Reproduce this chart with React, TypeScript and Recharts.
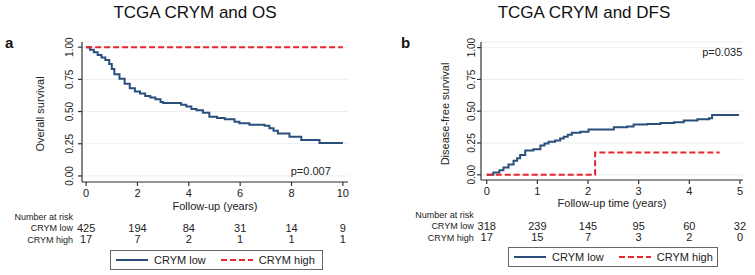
import React from "react";
import {
  LineChart,
  Line,
  XAxis,
  YAxis,
  CartesianGrid,
  Legend,
  ReferenceDot,
} from "recharts";

// overall survival (panel a)
const osLowTime = [0, 0.15, 0.3, 0.45, 0.6, 0.75, 0.9, 1.0, 1.1, 1.3, 1.5, 1.7, 1.9, 2.1, 2.3, 2.5, 2.7, 2.9, 3.0, 3.7, 3.9, 4.1, 4.3, 4.55, 4.8, 5.1, 5.4, 5.78, 5.97, 6.36, 6.95, 7.14, 7.3, 7.47, 7.92, 8.38, 9.09, 10.0];
const osLowSurv = [1.0, 0.98, 0.96, 0.94, 0.92, 0.9, 0.87, 0.83, 0.79, 0.755, 0.715, 0.68, 0.655, 0.64, 0.62, 0.61, 0.595, 0.575, 0.566, 0.553, 0.54, 0.52, 0.51, 0.49, 0.46, 0.45, 0.44, 0.42, 0.41, 0.398, 0.39, 0.37, 0.35, 0.33, 0.305, 0.28, 0.255, 0.255];
const osHighTime = [0, 10];
const osHighSurv = [1, 1];
const osTicks = [0, 2, 4, 6, 8, 10];
const osRiskLow = [425, 194, 84, 31, 14, 9];
const osRiskHigh = [17, 7, 2, 1, 1, 1];

// disease-free survival (panel b)
const dfsLowTime = [0, 0.13, 0.25, 0.33, 0.43, 0.53, 0.6, 0.66, 0.76, 0.92, 1.06, 1.14, 1.22, 1.35, 1.45, 1.52, 1.6, 1.68, 1.85, 2.01, 2.31, 2.51, 2.77, 2.9, 3.17, 3.43, 3.7, 3.89, 4.16, 4.39, 4.45, 4.98];
const dfsLowVal = [0, 0.018, 0.035, 0.057, 0.08, 0.11, 0.13, 0.156, 0.19, 0.2, 0.23, 0.245, 0.26, 0.27, 0.285, 0.3, 0.315, 0.33, 0.338, 0.356, 0.356, 0.374, 0.38, 0.395, 0.4, 0.408, 0.413, 0.426, 0.436, 0.444, 0.47, 0.47];
const dfsHighTime = [0, 2.14, 4.6];
const dfsHighVal = [0, 0.176, 0.176];
const dfsTicks = [0, 1, 2, 3, 4, 5];
const dfsRiskLow = [318, 239, 145, 95, 60, 32];
const dfsRiskHigh = [17, 15, 7, 3, 2, 0];

const yTicks = [0, 0.25, 0.5, 0.75, 1];
const legendOrder = ["CRYM low", "CRYM high"];

const BLUE = "#2a4f7c";
const RED = "#e8262b";
const AXIS = "#333";
const FONT = "'Liberation Sans', Arial, sans-serif";

const toRows = (t: number[], s: number[]) => t.map((v, i) => ({ t: v, s: s[i] }));

// x tick with number-at-risk rows underneath
const RiskTick = ({ x, y, payload, index, low, high }: any) => (
  <g fontFamily={FONT} fill="#222">
    <text x={x} y={y + 9} textAnchor="middle" fontSize={11}>{payload.value}</text>
    <text x={x} y={y + 43.7} textAnchor="middle" fontSize={11}>{low[index]}</text>
    <text x={x} y={y + 55.3} textAnchor="middle" fontSize={11}>{high[index]}</text>
    {index === 0 && (
      <g fontSize={9} textAnchor="end">
        <text x={x - 13} y={y + 31.6}>Number at risk</text>
        <text x={x - 13} y={y + 43}>CRYM low</text>
        <text x={x - 13} y={y + 54.6}>CRYM high</text>
      </g>
    )}
  </g>
);

const RotTick = ({ x, y, payload, gap }: any) => (
  <text
    x={x - gap}
    y={y}
    transform={`rotate(-90 ${x - gap} ${y})`}
    textAnchor="middle"
    dominantBaseline="central"
    fontSize={10}
    fontFamily={FONT}
    fill="#222"
  >
    {payload.value.toFixed(2)}
  </text>
);

const XTitle = ({ viewBox, text, dy }: any) => (
  <text x={viewBox.x + viewBox.width / 2} y={viewBox.y + dy} textAnchor="middle" fontSize={11} fontFamily={FONT} fill="#222">
    {text}
  </text>
);

const YTitle = ({ viewBox, text, cx, cy }: any) => (
  <text
    x={viewBox.x + cx}
    y={cy}
    transform={`rotate(-90 ${viewBox.x + cx} ${cy})`}
    textAnchor="middle"
    dominantBaseline="central"
    fontSize={11}
    fontFamily={FONT}
    fill="#222"
  >
    {text}
  </text>
);

const BoxLegend = ({ payload }: any) => {
  const items = [...(payload || [])].sort(
    (a: any, b: any) => legendOrder.indexOf(a.value) - legendOrder.indexOf(b.value)
  );
  return (
    <div
      style={{
        border: "1px solid #666",
        height: 20,
        display: "flex",
        alignItems: "center",
        paddingLeft: 5,
        fontFamily: FONT,
        fontSize: 11,
        color: "#222",
        boxSizing: "border-box",
        whiteSpace: "nowrap",
      }}
    >
      {items.map((p: any, i: number) => (
        <div key={i} style={{ display: "flex", alignItems: "center", marginRight: 15, flexShrink: 0 }}>
          <svg width={32} height={4}>
            <line x1={0} y1={2} x2={32} y2={2} stroke={p.color} strokeWidth={2} strokeDasharray={p.payload?.strokeDasharray} />
          </svg>
          <span style={{ marginLeft: 6 }}>{p.value}</span>
        </div>
      ))}
    </div>
  );
};

function KMPanel(props: any) {
  const { width, left, domainX, ticks, low, high, riskLow, riskHigh, yAxisW, right, xTitle, xTitleDy, yTitle, yTitleCx, tickGap, legendBox, pText, pPos } = props;
  return (
    <div style={{ position: "absolute", left, top: 0 }}>
      <LineChart width={width} height={275} margin={{ top: 42, right, left: 0, bottom: 0 }}>
        <CartesianGrid vertical={false} stroke="#e9eef2" />
        <XAxis
          dataKey="t"
          type="number"
          domain={domainX}
          ticks={ticks}
          interval={0}
          allowDataOverflow
          height={275 - 42 - props.plotH}
          stroke={AXIS}
          strokeWidth={1.2}
          tickSize={4}
          tick={<RiskTick low={riskLow} high={riskHigh} />}
          label={<XTitle text={xTitle} dy={xTitleDy} />}
        />
        <YAxis
          type="number"
          domain={[props.yMin, props.yMax]}
          ticks={yTicks}
          allowDataOverflow
          width={yAxisW}
          stroke={AXIS}
          strokeWidth={1.2}
          tickSize={4}
          tick={<RotTick gap={tickGap} />}
          label={<YTitle text={yTitle} cx={yTitleCx} cy={114} />}
        />
        <Line data={low} dataKey="s" type="stepAfter" name="CRYM low" stroke={BLUE} strokeWidth={2} dot={false} isAnimationActive={false} />
        <Line data={high} dataKey="s" type="stepAfter" name="CRYM high" stroke={RED} strokeWidth={2} strokeDasharray="6 3" dot={false} isAnimationActive={false} />
        <ReferenceDot
          x={pPos[0]}
          y={pPos[1]}
          r={0}
          fill="none"
          stroke="none"
          label={{ value: pText, position: "center", fontSize: 11, fontFamily: FONT, fill: "#222" }}
        />
        <Legend
          layout="horizontal"
          verticalAlign="middle"
          align="center"
          content={<BoxLegend />}
          wrapperStyle={{ left: legendBox[0], top: legendBox[1], width: legendBox[2], height: 20 }}
        />
      </LineChart>
    </div>
  );
}

export default function App() {
  const titleStyle: React.CSSProperties = {
    position: "absolute",
    top: 3,
    fontFamily: FONT,
    fontSize: 17,
    color: "#111",
    transform: "translateX(-50%)",
    whiteSpace: "nowrap",
  };
  const tagStyle: React.CSSProperties = {
    position: "absolute",
    top: 34,
    fontFamily: FONT,
    fontSize: 15,
    fontWeight: "bold",
    color: "#111",
  };
  return (
    <div style={{ position: "absolute", left: 0, top: 0, width: 755, height: 275, background: "#fff", overflow: "hidden" }}>
      <div style={{ ...titleStyle, left: 195 }}>TCGA CRYM and OS</div>
      <div style={{ ...titleStyle, left: 584 }}>TCGA CRYM and DFS</div>
      <div style={{ ...tagStyle, left: 5 }}>a</div>
      <div style={{ ...tagStyle, left: 401 }}>b</div>
      <KMPanel
        width={375}
        left={0}
        right={27}
        plotH={140}
        domainX={[-0.16, 10.2]}
        yMin={-0.047}
        yMax={1.04}
        ticks={osTicks}
        low={toRows(osLowTime, osLowSurv)}
        high={toRows(osHighTime, osHighSurv)}
        riskLow={osRiskLow}
        riskHigh={osRiskHigh}
        yAxisW={82}
        xTitle="Follow-up (years)"
        xTitleDy={27.5}
        yTitle="Overall survival"
        yTitleCx={40}
        tickGap={6}
        legendBox={[110, 250, 213]}
        pText="p=0.007"
        pPos={[8.75, 0.035]}
      />
      <KMPanel
        width={380}
        left={375}
        right={12}
        plotH={138}
        domainX={[-0.113, 5.06]}
        yMin={-0.041}
        yMax={1.044}
        ticks={dfsTicks}
        low={toRows(dfsLowTime, dfsLowVal)}
        high={toRows(dfsHighTime, dfsHighVal)}
        riskLow={dfsRiskLow}
        riskHigh={dfsRiskHigh}
        yAxisW={106}
        xTitle="Follow-up time (years)"
        xTitleDy={27}
        yTitle="Disease-free survival"
        yTitleCx={70}
        tickGap={3}
        legendBox={[133, 247, 210]}
        pText="p=0.035"
        pPos={[4.65, 0.965]}
      />
    </div>
  );
}
